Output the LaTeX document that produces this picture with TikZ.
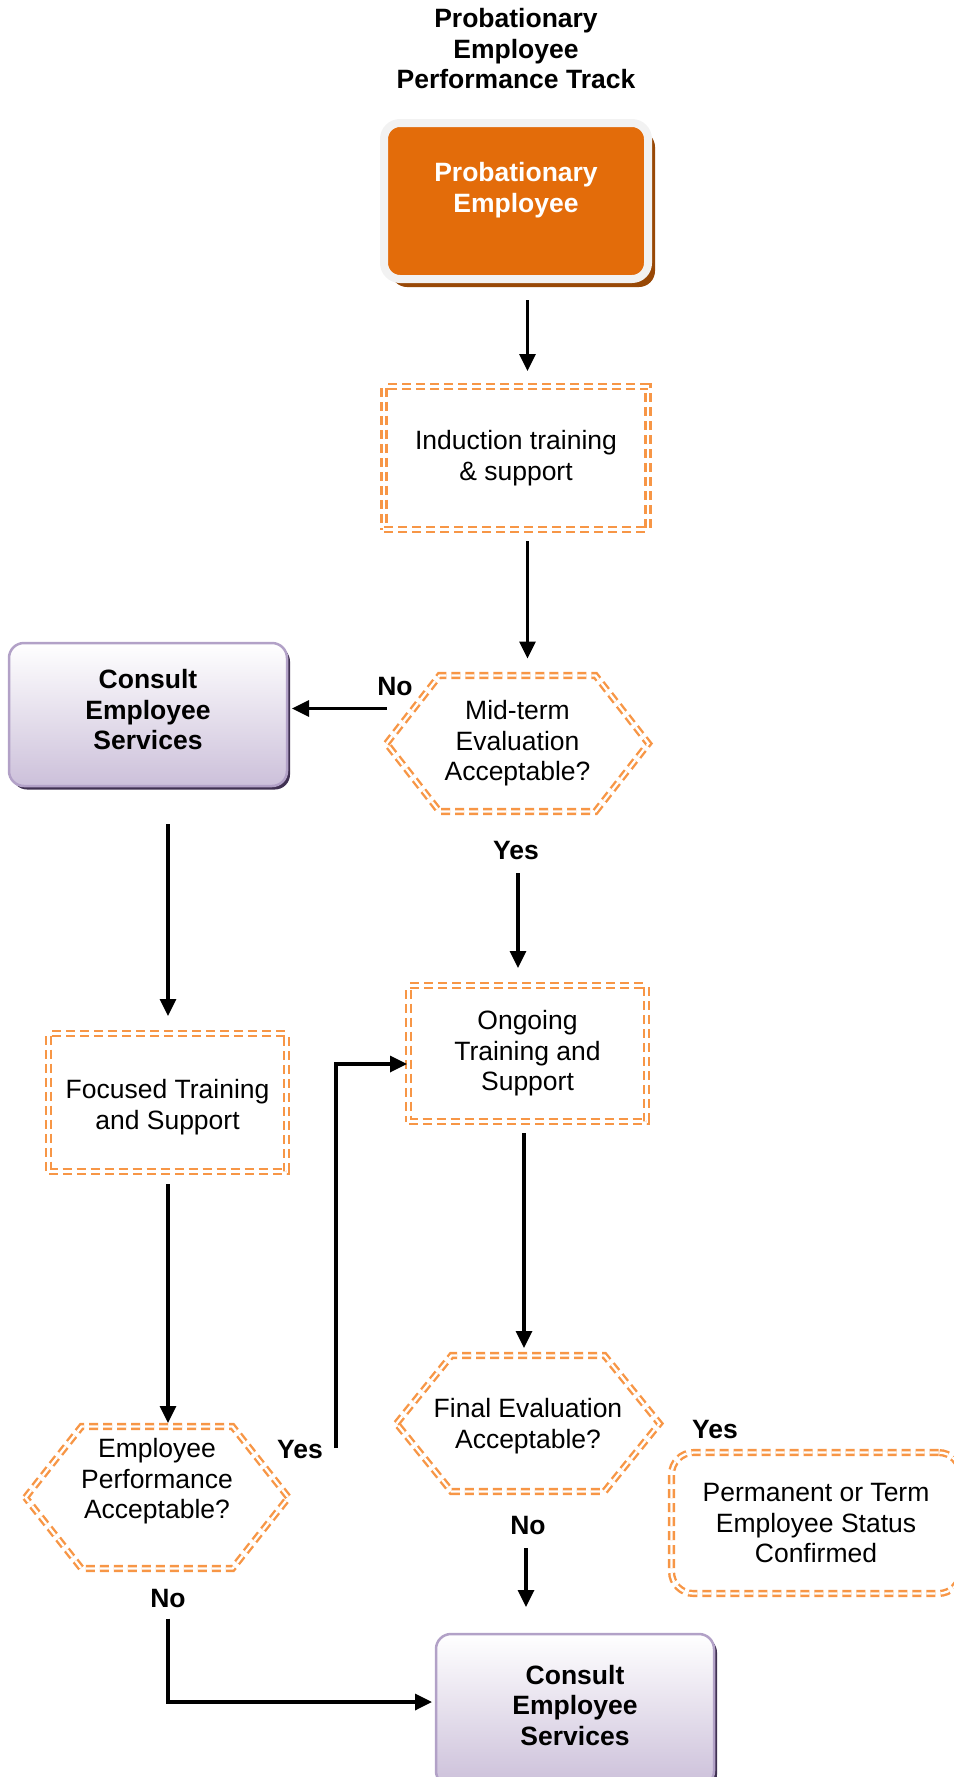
\documentclass[tikz,border=0pt]{standalone}
\usepackage{fontspec}
\setmainfont{Liberation Sans}
\usepackage{tikz}
\usetikzlibrary{positioning, shadows, arrows.meta}
\definecolor{dashorange}{RGB}{247, 150, 70}
\definecolor{probfill}{RGB}{227, 108, 10}
\definecolor{probframe}{RGB}{242, 242, 242}
\definecolor{probshadow}{RGB}{152, 72, 6}
\definecolor{esborder}{RGB}{178, 161, 199}
\definecolor{esfill}{RGB}{204, 192, 218}
\definecolor{esshadow}{RGB}{64, 49, 82}
\newcommand{\boxfont}{\fontsize{26.5pt}{30.5pt}\selectfont}
% dashed hexagon round a decision node
\newcommand{\hexframe}[2]{%
  \draw[dashline] (#1.west) -- ([xshift=#2]#1.north west) -- ([xshift=-#2]#1.north east)
    -- (#1.east) -- ([xshift=-#2]#1.south east) -- ([xshift=#2]#1.south west) -- cycle;}

\begin{document}
\begin{tikzpicture}[
            x=1pt, y=-1pt,
            every node/.style={font=\boxfont, align=center, inner sep=0pt, outer sep=0pt},
            dashline/.style={draw=dashorange, double=white, line width=2.4pt, double distance=2.3pt, dash pattern=on 9pt off 5pt},
            dashbox/.style={rectangle, dashline},
            decision/.style={rectangle},
            probbox/.style={rectangle, rounded corners=16pt, fill=probfill, draw=probframe, line width=8pt, minimum width=264pt, minimum height=156pt, text=white, font=\boxfont\bfseries, text depth=27.6pt, drop shadow={shadow xshift=7pt, shadow yshift=-8pt, fill=probshadow, opacity=1}},
            consult/.style={rectangle, rounded corners=15pt, draw=esborder, line width=2.5pt, top color=white, bottom color=esfill, minimum width=278pt, minimum height=143pt, font=\boxfont\bfseries, text depth=10pt, drop shadow={shadow xshift=3pt, shadow yshift=-3.5pt, fill=esshadow, opacity=1}},
            lbl/.style={font=\boxfont\bfseries, text height=19pt, text depth=0pt},
            flow/.style={-{Triangle[length=17pt, width=16pt]}, line width=3.3pt}
        ]
            \useasboundingbox (0,0) rectangle (953,1777);

            \node (title) at (516, 49) [font=\boxfont\bfseries] {Probationary\\Employee\\Performance Track};
            \node (prob) at (516, 201) [probbox] {Probationary\\Employee};
            \node (induct) [dashbox, minimum width=264pt, minimum height=143pt, below=107.5pt of prob] {Induction training\\\& support};
            \node (midterm) [decision, minimum width=262pt, minimum height=136pt, below=146pt of induct, xshift=1.5pt] {Mid-term\\Evaluation\\Acceptable?};
            \node (consult1) [consult, left=99.5pt of midterm, yshift=29pt] {Consult\\Employee\\Services};
            \node (ongoing) [dashbox, minimum width=238pt, minimum height=136pt, below=174pt of midterm, xshift=10pt] {Ongoing\\Training and\\Support};
            \node (focused) [dashbox, minimum width=238pt, minimum height=138pt, text height=59pt, below=247.5pt of consult1, xshift=19.5pt] {Focused Training\\and Support};
            \node (emp) [decision, minimum width=263pt, minimum height=142pt, text depth=38pt, below=255pt of focused, xshift=-10.5pt] {Employee\\Performance\\Acceptable?};
            \node (final) [decision, minimum width=263pt, minimum height=136pt, text height=55pt, below=234pt of ongoing, xshift=0.5pt] {Final Evaluation\\Acceptable?};
            \node (perm) [dashbox, rounded corners=22pt, minimum width=289pt, minimum height=141pt, right=12pt of final, yshift=-99.5pt] {Permanent or Term\\Employee Status\\Confirmed};
            \node (consult2) [consult, minimum height=152pt, below=142.5pt of final, xshift=47pt] {Consult\\Employee\\Services};

            \hexframe{midterm}{53pt}
            \hexframe{emp}{56pt}
            \hexframe{final}{55pt}

            \node (midno) [lbl] at (395, 686) {No};
            \node (midyes) [lbl] at (516, 850) {Yes};
            \node (empyes) [lbl] at (300, 1449) {Yes};
            \node (empno) [lbl] at (168, 1598) {No};
            \node (finalyes) [lbl] at (715, 1429) {Yes};
            \node (finalno) [lbl] at (528, 1525) {No};

            \draw[flow, shorten <=21pt, shorten >=15.5pt] ([xshift=11.5pt]prob.south) -- ([xshift=11.5pt]induct.north);
            \draw[flow, shorten <=11.5pt, shorten >=17pt] ([xshift=11.5pt]induct.south) -- ([xshift=10pt]midterm.north);
            \draw[flow, shorten >=5pt] ([yshift=35pt]midterm.west) -- ([yshift=6pt]consult1.east);
            \draw[flow, shorten <=38pt, shorten >=17.5pt] ([xshift=20pt]consult1.south) -- ([xshift=0.5pt]focused.north);
            \draw[flow, shorten <=61.5pt, shorten >=17.5pt] ([xshift=0.5pt]midterm.south) -- ([xshift=-9.5pt]ongoing.north);
            \draw[flow, shorten <=12.5pt, shorten >=3.5pt] ([xshift=0.5pt]focused.south) -- ([xshift=11pt]emp.north);
            \draw[flow, shorten >=1.5pt] ([xshift=47.5pt, yshift=49.5pt]emp.east) |- ([yshift=-10.5pt]ongoing.west);
            \draw[flow, shorten >=4pt] ([xshift=11pt, yshift=-50pt]emp.south) |- ([yshift=8pt]consult2.west);
            \draw[flow, shorten <=11.5pt, shorten >=7.5pt] ([xshift=-3.5pt]ongoing.south) -- ([xshift=-4pt]final.north);
            \draw[flow, shorten <=56.5pt, shorten >=27pt] ([xshift=-2pt]final.south) -- ([xshift=-49pt]consult2.north);
        \end{tikzpicture}
\end{document}
